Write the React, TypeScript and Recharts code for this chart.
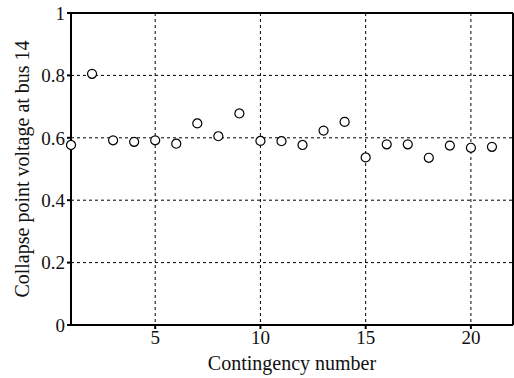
import { ScatterChart, Scatter, XAxis, YAxis, ZAxis, CartesianGrid, Label, ReferenceLine } from 'recharts';

const contingencies = [1, 2, 3, 4, 5, 6, 7, 8, 9, 10, 11, 12, 13, 14, 15, 16, 17, 18, 19, 20, 21];
const collapseVoltage = [
  0.577, 0.805, 0.592, 0.587, 0.592, 0.581, 0.646, 0.605, 0.678, 0.59, 0.589,
  0.577, 0.623, 0.651, 0.537, 0.579, 0.579, 0.536, 0.575, 0.568, 0.571,
];
const xTicks = [5, 10, 15, 20];
const yTicks = [0, 0.2, 0.4, 0.6, 0.8, 1];

const data = contingencies.map((c, i) => ({ c, v: collapseVoltage[i] }));

export default function App() {
  return (
    <div style={{ position: 'absolute', left: 0, top: 0, background: '#fff' }}>
      <ScatterChart width={514} height={378} margin={{ top: 13, right: 1, bottom: 0, left: 0 }}>
        <CartesianGrid stroke="#000" strokeDasharray="3 3" />
        <XAxis
          dataKey="c"
          type="number"
          domain={[1, 22]}
          ticks={xTicks}
          height={53}
          stroke="#000"
          strokeWidth={2}
          tickSize={4}
          tick={{ fontFamily: 'Liberation Serif', fontSize: 19, fill: '#111' }}
        >
          <Label
            value="Contingency number"
            position="insideBottom"
            offset={8}
            style={{ fontFamily: 'Liberation Serif', fontSize: 20 }}
            fill="#111"
          />
        </XAxis>
        <YAxis
          dataKey="v"
          type="number"
          domain={[0, 1]}
          ticks={yTicks}
          width={71}
          stroke="#000"
          strokeWidth={2}
          tickSize={4}
          tickMargin={2}
          tick={{ fontFamily: 'Liberation Serif', fontSize: 19, fill: '#111' }}
        >
          <Label
            value="Collapse point voltage at bus 14"
            angle={-90}
            position="insideLeft"
            offset={22}
            style={{ fontFamily: 'Liberation Serif', fontSize: 20, textAnchor: 'middle' }}
            fill="#111"
          />
        </YAxis>
        <ZAxis range={[70, 70]} />
        <ReferenceLine y={1} stroke="#000" strokeWidth={2} />
        <ReferenceLine x={22} stroke="#000" strokeWidth={2} />
        <Scatter data={data} fill="#fff" stroke="#000" strokeWidth={1.2} isAnimationActive={false} />
      </ScatterChart>
    </div>
  );
}
